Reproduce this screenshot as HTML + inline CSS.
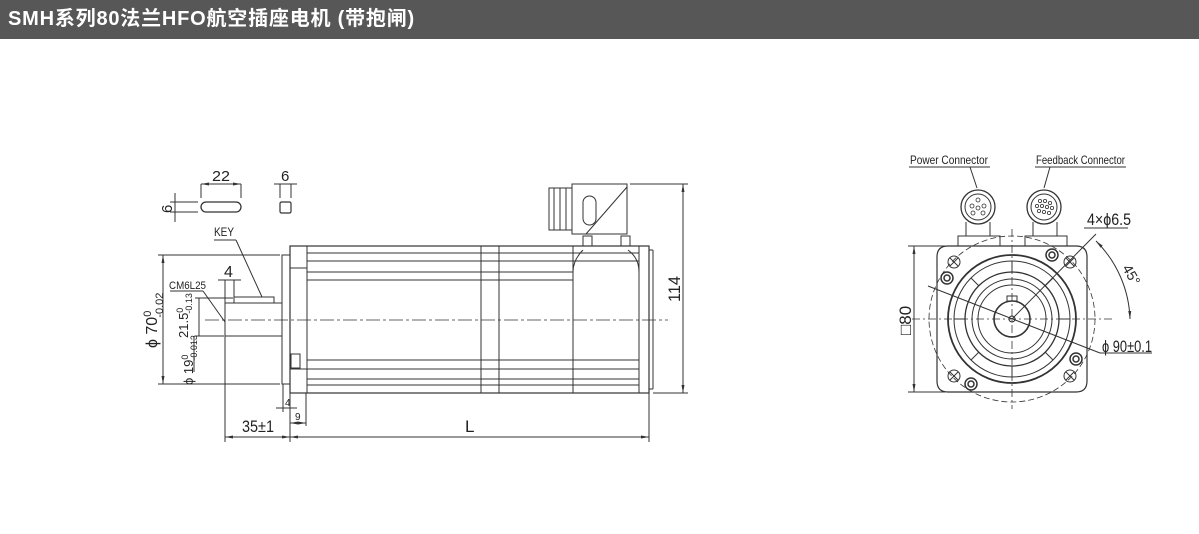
<!DOCTYPE html>
<html><head><meta charset="utf-8"><style>
body{margin:0;width:1199px;height:534px;background:#fff;overflow:hidden;font-family:"Liberation Sans","Noto Sans CJK SC",sans-serif}
.hd{position:absolute;left:0;top:0;width:1199px;height:39px;background:#575757;color:#fff;font-weight:bold;font-size:20px;line-height:39px;padding-left:8px;box-sizing:border-box;letter-spacing:0.8px}
svg{position:absolute;left:0;top:0}
text{font-family:"Liberation Sans Narrow","Liberation Sans",sans-serif;fill:#222}
</style></head><body>
<div class="hd">SMH系列80法兰HFO航空插座电机 (带抱闸)</div>
<svg width="1199" height="534" viewBox="0 0 1199 534">
<defs><marker id="a" markerWidth="8" markerHeight="6" refX="8" refY="3" orient="auto-start-reverse"><path d="M0,1.5L8,3L0,4.5z" fill="#333"/></marker></defs>
<g stroke="#333" stroke-width="1" fill="none">
<rect x="201" y="202" width="40" height="10" rx="5" stroke-width="1.3"/>
<line x1="201" y1="198" x2="201" y2="184"/><line x1="241" y1="198" x2="241" y2="184"/>
<line x1="201" y1="184" x2="241" y2="184" marker-start="url(#a)" marker-end="url(#a)"/>
<line x1="170" y1="202" x2="198" y2="202"/><line x1="170" y1="212" x2="198" y2="212"/>
<line x1="175" y1="193" x2="175" y2="222"/>
<rect x="280" y="202" width="11" height="11" rx="1.5" stroke-width="1.2"/>
<line x1="280" y1="198" x2="280" y2="184"/><line x1="291" y1="198" x2="291" y2="184"/>
<line x1="274" y1="184" x2="297" y2="184"/>
<rect x="290" y="246" width="359" height="147" stroke-width="1.2"/>
<rect x="282" y="255" width="8" height="129"/>
<rect x="225" y="303" width="57" height="33"/>
<rect x="234" y="297" width="40" height="6"/>
<line x1="307" y1="246" x2="307" y2="393"/>
<line x1="290" y1="268" x2="307" y2="268"/><line x1="290" y1="369" x2="307" y2="369"/>
<rect x="291" y="354" width="9" height="14"/>
<line x1="481" y1="246" x2="481" y2="393"/><line x1="499" y1="246" x2="499" y2="393"/>
<line x1="573" y1="246" x2="573" y2="393"/><line x1="639" y1="246" x2="639" y2="393"/>
<line x1="649" y1="250" x2="653" y2="250"/><line x1="653" y1="250" x2="653" y2="389"/><line x1="649" y1="389" x2="653" y2="389"/>
<g stroke-width="0.9">
<line x1="307" y1="253" x2="639" y2="253"/><line x1="307" y1="261" x2="639" y2="261"/>
<line x1="307" y1="272" x2="573" y2="272"/><line x1="307" y1="280" x2="573" y2="280"/>
<line x1="307" y1="360" x2="639" y2="360"/><line x1="307" y1="369" x2="639" y2="369"/>
<line x1="307" y1="379" x2="639" y2="379"/><line x1="307" y1="385" x2="639" y2="385"/>
</g>
<path d="M573,272 Q573,260 583,250"/><path d="M639,272 Q639,258 628,250"/>
<rect x="572" y="184" width="55" height="50"/>
<rect x="549" y="188" width="23" height="42"/>
<line x1="554" y1="188" x2="554" y2="230"/><line x1="560" y1="188" x2="560" y2="230"/><line x1="566" y1="188" x2="566" y2="230"/>
<rect x="583" y="196" width="13" height="29" rx="6.5"/>
<line x1="586" y1="234" x2="627" y2="187"/>
<rect x="583" y="236" width="9" height="10"/><rect x="621" y="236" width="9" height="10"/>
<line x1="205" y1="320" x2="668" y2="320" stroke-dasharray="14,3,3,3" stroke-width="0.8"/>
<line x1="630" y1="184" x2="688" y2="184"/><line x1="653" y1="393" x2="688" y2="393"/>
<line x1="683" y1="184" x2="683" y2="393" marker-start="url(#a)" marker-end="url(#a)"/>
<line x1="158" y1="255" x2="280" y2="255"/><line x1="158" y1="384" x2="280" y2="384"/>
<line x1="163" y1="255" x2="163" y2="384" marker-start="url(#a)" marker-end="url(#a)"/>
<line x1="195" y1="298" x2="233" y2="298"/><line x1="195" y1="336" x2="224" y2="336"/>
<line x1="199" y1="298" x2="199" y2="336"/>
<line x1="194" y1="336" x2="194" y2="372"/>
<line x1="170" y1="291" x2="203" y2="291"/><line x1="203" y1="291" x2="225" y2="322"/>
<line x1="214" y1="240" x2="236" y2="240"/><line x1="236" y1="240" x2="262" y2="297"/>
<line x1="225" y1="280" x2="225" y2="336"/><line x1="234" y1="280" x2="234" y2="297"/>
<line x1="218" y1="280" x2="241" y2="280"/>
<line x1="225" y1="336" x2="225" y2="442"/><line x1="290" y1="393" x2="290" y2="442"/>
<line x1="283" y1="384" x2="283" y2="412"/><line x1="306" y1="393" x2="306" y2="426"/>
<line x1="649" y1="393" x2="649" y2="442"/>
<line x1="225" y1="437" x2="290" y2="437" marker-start="url(#a)" marker-end="url(#a)"/>
<line x1="290" y1="437" x2="649" y2="437" marker-start="url(#a)" marker-end="url(#a)"/>
<line x1="276" y1="408" x2="297" y2="408"/>
<line x1="290" y1="423" x2="306" y2="423" marker-start="url(#a)" marker-end="url(#a)"/>

<g transform="translate(1012,319)">
<path d="M-64,-73 L64,-73 Q75,-73 75,-62 L75,62 Q75,73 64,73 L-64,73 Q-75,73 -75,62 L-75,-62 Q-75,-73 -64,-73Z" stroke-width="1.2"/>
<circle r="83" stroke-dasharray="6,3" stroke-width="0.8"/>
<circle r="64" stroke-width="1.8"/>
<circle r="58"/><circle r="47" stroke-width="1.3"/><circle r="40"/><circle r="34"/>
<circle r="18" stroke-width="1.6"/><circle r="3"/>
<rect x="-5" y="-23" width="10" height="5"/>
<g stroke-width="1">
<line x1="0" y1="-58" x2="0" y2="-47"/><line x1="0" y1="58" x2="0" y2="47"/>
<line x1="-58" y1="0" x2="-47" y2="0"/><line x1="58" y1="0" x2="47" y2="0"/>
<line x1="41" y1="-41" x2="33" y2="-33"/><line x1="-41" y1="-41" x2="-33" y2="-33"/>
<line x1="41" y1="41" x2="33" y2="33"/><line x1="-41" y1="41" x2="-33" y2="33"/>
</g>
<line x1="-100" y1="0" x2="100" y2="0" stroke-dasharray="8,3,2,3" stroke-width="0.8"/>
<line x1="0" y1="-90" x2="0" y2="90" stroke-dasharray="8,3,2,3" stroke-width="0.8"/>
<line x1="-84" y1="-33" x2="88" y2="34"/>
<line x1="0" y1="0" x2="84" y2="-85"/>
<path d="M84,-78 A115,115 0 0 1 118,0" marker-start="url(#a)" marker-end="url(#a)"/>
<g><circle cx="-58" cy="-57" r="6"/><line x1="-62" y1="-61" x2="-54" y2="-53"/><line x1="-54" y1="-61" x2="-62" y2="-53"/></g>
<g transform="scale(-1,1)"><circle cx="-58" cy="-57" r="6"/><line x1="-62" y1="-61" x2="-54" y2="-53"/><line x1="-54" y1="-61" x2="-62" y2="-53"/></g>
<g transform="scale(1,-1)"><circle cx="-58" cy="-57" r="6"/><line x1="-62" y1="-61" x2="-54" y2="-53"/><line x1="-54" y1="-61" x2="-62" y2="-53"/></g>
<g transform="scale(-1,-1)"><circle cx="-58" cy="-57" r="6"/><line x1="-62" y1="-61" x2="-54" y2="-53"/><line x1="-54" y1="-61" x2="-62" y2="-53"/></g>
<g stroke-width="1.5"><circle cx="-65" cy="-41" r="6"/><circle cx="-65" cy="-41" r="3"/>
<circle cx="40" cy="-64" r="6"/><circle cx="40" cy="-64" r="3"/>
<circle cx="64" cy="40" r="6"/><circle cx="64" cy="40" r="3"/>
<circle cx="-41" cy="65" r="6"/><circle cx="-41" cy="65" r="3"/></g>
</g>
<rect x="958" y="236" width="42" height="10"/><rect x="1025" y="236" width="42" height="10"/>
<path d="M966,236 L966,222 M990,236 L990,222 M1033,236 L1033,222 M1057,236 L1057,222"/>
<circle cx="978" cy="207" r="17" stroke-width="1.3"/><circle cx="978" cy="207" r="13"/>
<circle cx="1044" cy="207" r="17" stroke-width="1.3"/><circle cx="1044" cy="207" r="13"/>
<g stroke-width="0.8"><circle cx="978" cy="200" r="2"/><circle cx="972" cy="206" r="2"/><circle cx="984" cy="206" r="2"/><circle cx="978" cy="208" r="2"/><circle cx="973" cy="213" r="2"/><circle cx="983" cy="213" r="2"/>
<circle cx="1040" cy="201" r="1.6"/><circle cx="1045" cy="201" r="1.6"/><circle cx="1050" cy="203" r="1.6"/><circle cx="1037" cy="206" r="1.6"/><circle cx="1042" cy="206" r="1.6"/><circle cx="1047" cy="207" r="1.6"/><circle cx="1052" cy="208" r="1.6"/><circle cx="1039" cy="211" r="1.6"/><circle cx="1044" cy="212" r="1.6"/><circle cx="1049" cy="213" r="1.6"/></g>
<line x1="909" y1="167" x2="990" y2="167"/><line x1="970" y1="167" x2="977" y2="188"/>
<line x1="1035" y1="167" x2="1126" y2="167"/><line x1="1050" y1="167" x2="1044" y2="188"/>
<line x1="908" y1="246" x2="945" y2="246"/><line x1="908" y1="392" x2="945" y2="392"/>
<line x1="914" y1="246" x2="914" y2="392" marker-start="url(#a)" marker-end="url(#a)"/>
<line x1="1084" y1="228" x2="1128" y2="228"/>
<line x1="1100" y1="353" x2="1152" y2="353"/>
</g>
<g font-size="15">
<text x="212" y="181" textLength="18" lengthAdjust="spacingAndGlyphs">22</text><text x="281" y="181">6</text>
<text transform="translate(172,213) rotate(-90)">6</text>
<text x="214" y="236" font-size="12" textLength="20" lengthAdjust="spacingAndGlyphs">KEY</text>
<text x="224" y="277" font-size="16">4</text>
<text x="169" y="289" font-size="11" textLength="37" lengthAdjust="spacingAndGlyphs">CM6L25</text>
<text transform="translate(157,348) rotate(-90)" font-size="16">ϕ 70<tspan font-size="11" dy="-6">0</tspan><tspan font-size="11" dx="-7" dy="12">-0.02</tspan></text>
<text transform="translate(188,338) rotate(-90)" font-size="13">21.5<tspan font-size="9" dy="-5">0</tspan><tspan font-size="9" dx="-6" dy="9">-0.13</tspan></text>
<text transform="translate(193,385) rotate(-90)" font-size="13">ϕ 19<tspan font-size="9" dy="-5">0</tspan><tspan font-size="9" dx="-6" dy="9">-0.013</tspan></text>
<text x="285" y="406" font-size="10">4</text><text x="295" y="420" font-size="10">9</text>
<text x="242" y="432" font-size="17" textLength="32" lengthAdjust="spacingAndGlyphs">35±1</text>
<text x="465" y="432" font-size="17">L</text>
<text transform="translate(680,302) rotate(-90)" font-size="17" textLength="26" lengthAdjust="spacingAndGlyphs">114</text>
<text x="910" y="164" font-size="12" textLength="78" lengthAdjust="spacingAndGlyphs">Power Connector</text>
<text x="1036" y="164" font-size="12" textLength="89" lengthAdjust="spacingAndGlyphs">Feedback Connector</text>
<text x="1087" y="225" font-size="17" textLength="44" lengthAdjust="spacingAndGlyphs">4×ϕ6.5</text>
<text transform="translate(911,335) rotate(-90)" font-size="17">□80</text>
<text x="1102" y="352" font-size="17" textLength="50" lengthAdjust="spacingAndGlyphs">ϕ 90±0.1</text>
<text transform="translate(1122,268) rotate(60)" font-size="14">45°</text>
</g>
</svg>
</body></html>
